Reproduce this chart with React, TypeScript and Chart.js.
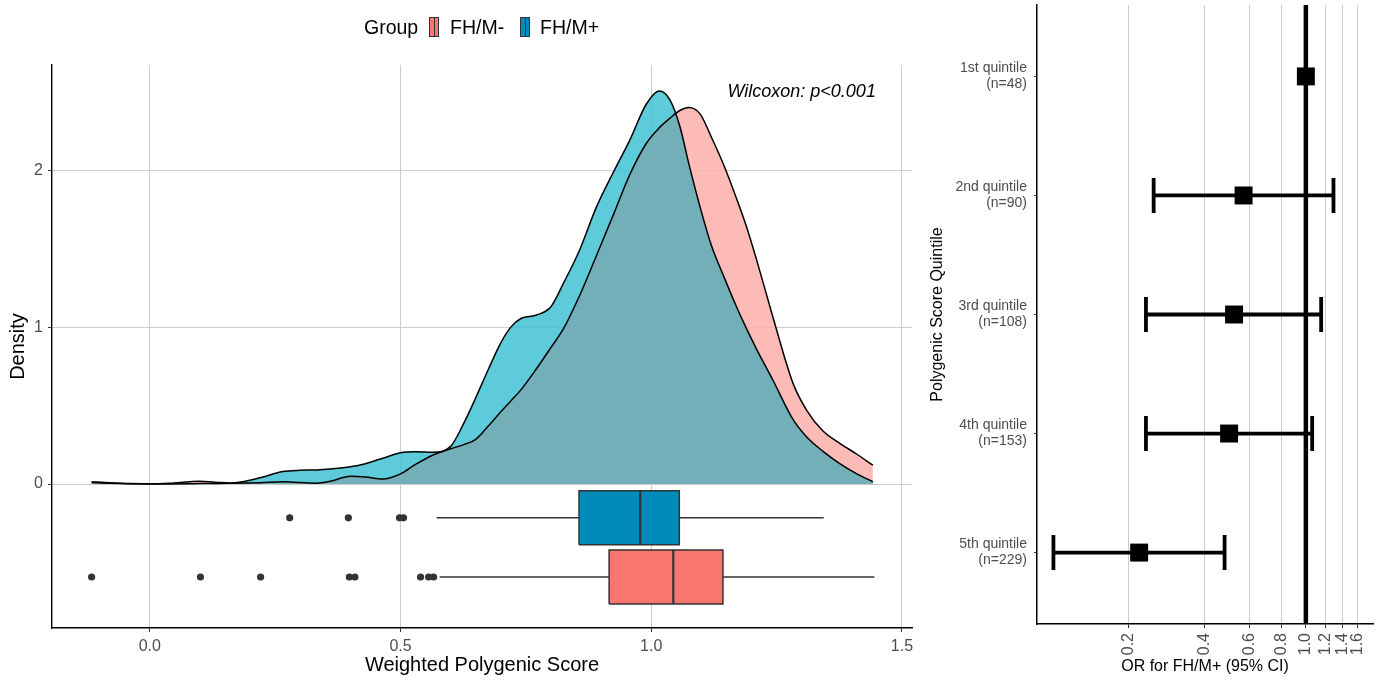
import React, { useEffect, useRef } from "react";
import { Chart, registerables } from "chart.js";

Chart.register(...registerables);

const FONT = "'Liberation Sans', Arial, Helvetica, sans-serif";

// ---------- Left panel: density + boxplots ----------
const scoreGrid = [
  -0.116, -0.08, -0.04, 0, 0.04, 0.08, 0.1, 0.13, 0.17, 0.22, 0.265, 0.3, 0.333, 0.36, 0.4, 0.43,
  0.465, 0.5, 0.53, 0.565, 0.6, 0.625, 0.65, 0.675, 0.7, 0.72, 0.74, 0.77, 0.8, 0.825, 0.857, 0.89,
  0.925, 0.957, 0.99, 1.016, 1.037, 1.057, 1.075, 1.097, 1.12, 1.145, 1.17, 1.19, 1.21, 1.243, 1.283,
  1.31, 1.342, 1.376, 1.41, 1.442,
];
// FH/M-
const densityNeg = [
  0.015, 0.008, 0.003, 0.002, 0.006, 0.015, 0.018, 0.012, 0.005, 0.008, 0.015, 0.01, 0.006, 0.018, 0.05, 0.045,
  0.032, 0.065, 0.125, 0.185, 0.225, 0.25, 0.285, 0.37, 0.46, 0.53, 0.6, 0.73, 0.87, 0.99, 1.2, 1.45,
  1.72, 1.97, 2.17, 2.27, 2.33, 2.38, 2.4, 2.36, 2.21, 2.03, 1.82, 1.64, 1.43, 1.06, 0.64,
  0.47, 0.34, 0.26, 0.19, 0.12,
];
// FH/M+
const densityPos = [
  0.01, 0.005, 0.002, 0.001, 0.001, 0.002, 0.003, 0.004, 0.008, 0.04, 0.08, 0.088, 0.09, 0.096, 0.11, 0.13,
  0.165, 0.2, 0.206, 0.203, 0.24, 0.38, 0.55, 0.73, 0.9, 1.0, 1.055, 1.076, 1.13, 1.28, 1.49, 1.76,
  1.99, 2.19, 2.42, 2.505, 2.45, 2.28, 2.04, 1.77, 1.52, 1.32, 1.13, 0.99, 0.86, 0.66, 0.41,
  0.3, 0.21, 0.13, 0.065, 0.015,
];
const scoreTicks = [0, 0.5, 1.0, 1.5];
const scoreTickLabels = ["0.0", "0.5", "1.0", "1.5"];
const densityTicks = [0, 1, 2];
const densityTickLabels = ["0", "1", "2"];

const groups = ["FH/M-", "FH/M+"];
const boxQ1 = [0.916, 0.856];
const boxMedian = [1.044, 0.978];
const boxQ3 = [1.143, 1.056];
const whiskerLow = [0.578, 0.572];
const whiskerHigh = [1.445, 1.344];
const outliersNeg = [-0.116, 0.101, 0.221, 0.398, 0.409, 0.54, 0.556, 0.566];
const outliersPos = [0.279, 0.396, 0.498, 0.506];
const wilcoxonText = "Wilcoxon: p<0.001";

// ---------- Right panel: forest plot ----------
const quintiles = ["1st quintile", "2nd quintile", "3rd quintile", "4th quintile", "5th quintile"];
const quintileN = [48, 90, 108, 153, 229];
const orValues = [1.0, 0.568, 0.521, 0.498, 0.22];
const ciLow = [null, 0.251, 0.234, 0.234, 0.101];
const ciHigh = [null, 1.285, 1.149, 1.059, 0.478];
const orTicks = [0.2, 0.4, 0.6, 0.8, 1.0, 1.2, 1.4, 1.6];
const orTickLabels = ["0.2", "0.4", "0.6", "0.8", "1.0", "1.2", "1.4", "1.6"];

// ---------- styles / layout ----------
const BOX_ROW = [-0.592, -0.215]; // vertical centre of each group's boxplot (density units)
const BOX_HALF = 0.172;
const CAP_HALF = 0.147;
const WILCOXON_AT = { x: 1.448, y: 2.5 };
const NEG_FILL = "rgba(251,175,169,0.85)";
const POS_FILL = "rgba(66,194,213,0.85)";
const OVERLAP_FILL = "rgba(120,173,181,0.85)";
const BOX_COLORS = ["#F8766D", "#008BBA"];
const GRID = "#CCCCCC";
const TICK_TEXT = "#4D4D4D";

const wilcoxonPlugin = {
  id: "wilcoxon",
  afterDatasetsDraw(chart: any) {
    const { ctx, scales } = chart;
    ctx.save();
    ctx.font = `italic 18px ${FONT}`;
    ctx.fillStyle = "#000";
    ctx.textAlign = "right";
    ctx.textBaseline = "middle";
    ctx.fillText(wilcoxonText, scales.x.getPixelForValue(WILCOXON_AT.x), scales.y.getPixelForValue(WILCOXON_AT.y));
    ctx.restore();
  },
};

const fixHeight = (h: number) => (s: any) => {
  s.height = h;
  s.paddingLeft = 0;
  s.paddingRight = 0;
};
const fixWidth = (w: number) => (s: any) => {
  s.width = w;
  s.paddingTop = 0;
  s.paddingBottom = 0;
};

function buildLeftDatasets() {
  const ds: any[] = [];
  const curve = (ys: number[]) => scoreGrid.map((x, i) => ({ x, y: ys[i] }));
  const overlap = scoreGrid.map((x, i) => ({ x, y: Math.min(densityNeg[i], densityPos[i]) }));
  const area = (data: any, color: string, order: number) => ({
    data, fill: "origin", backgroundColor: color, borderWidth: 0, pointRadius: 0,
    cubicInterpolationMode: "monotone", order,
  });
  ds.push(area(curve(densityNeg), NEG_FILL, 40));
  ds.push(area(curve(densityPos), POS_FILL, 39));
  ds.push(area(overlap, OVERLAP_FILL, 38));
  const outline = (data: any, order: number) => ({
    data, fill: false, borderColor: "#000", borderWidth: 1.5, pointRadius: 0,
    cubicInterpolationMode: "monotone", order,
  });
  ds.push(outline(curve(densityNeg), 37));
  ds.push(outline(curve(densityPos), 36));

  const outliers = [outliersNeg, outliersPos];
  groups.forEach((g, k) => {
    const c = BOX_ROW[k];
    const lo = c - BOX_HALF;
    const hi = c + BOX_HALF;
    const bottomIndex = ds.length;
    ds.push({ data: [{ x: boxQ1[k], y: lo }, { x: boxQ3[k], y: lo }], borderWidth: 0, pointRadius: 0, fill: false, order: 30 });
    ds.push({ data: [{ x: boxQ1[k], y: hi }, { x: boxQ3[k], y: hi }], borderWidth: 0, pointRadius: 0,
      fill: bottomIndex, backgroundColor: BOX_COLORS[k], order: 29 });
    const seg = (data: any, w: number, order: number) => ({
      data, borderColor: "#333333", borderWidth: w, pointRadius: 0, fill: false, order,
      borderCapStyle: "butt", borderJoinStyle: "miter",
    });
    ds.push(seg([{ x: whiskerLow[k], y: c }, { x: boxQ1[k], y: c }], 1.6, 28));
    ds.push(seg([{ x: boxQ3[k], y: c }, { x: whiskerHigh[k], y: c }], 1.6, 28));
    ds.push(seg([{ x: boxQ1[k], y: lo }, { x: boxQ1[k], y: hi }, { x: boxQ3[k], y: hi }, { x: boxQ3[k], y: lo }, { x: boxQ1[k], y: lo }], 1.5, 27));
    ds.push(seg([{ x: boxMedian[k], y: lo }, { x: boxMedian[k], y: hi }], 2.2, 26));
    ds.push({ data: outliers[k].map((x) => ({ x, y: c })), showLine: false, pointRadius: 3.6,
      pointBackgroundColor: "#333333", pointBorderWidth: 0, order: 25 });
  });
  return ds;
}

function buildRightDatasets() {
  const ds: any[] = [];
  const seg = (data: any, w: number, order: number) => ({
    data, borderColor: "#000", borderWidth: w, pointRadius: 0, fill: false, order, borderCapStyle: "butt",
  });
  ds.push(seg([{ x: 1, y: 0.4 }, { x: 1, y: 5.6 }], 4.5, 30));
  quintiles.forEach((q, i) => {
    const y = i + 1;
    const lo = ciLow[i];
    const hi = ciHigh[i];
    if (lo == null || hi == null) return;
    ds.push(seg([{ x: lo, y }, { x: hi, y }], 3.8, 20));
    ds.push(seg([{ x: lo, y: y - CAP_HALF }, { x: lo, y: y + CAP_HALF }], 3.8, 20));
    ds.push(seg([{ x: hi, y: y - CAP_HALF }, { x: hi, y: y + CAP_HALF }], 3.8, 20));
  });
  ds.push({
    data: orValues.map((v, i) => ({ x: v, y: i + 1 })), showLine: false, pointStyle: "rect",
    pointRadius: 12.7, pointBackgroundColor: "#000", pointBorderWidth: 0, order: 10,
  });
  return ds;
}

function LeftChart() {
  const ref = useRef<HTMLCanvasElement>(null);
  useEffect(() => {
    const chart = new Chart(ref.current as HTMLCanvasElement, {
      type: "line",
      data: { datasets: buildLeftDatasets() },
      options: {
        animation: false,
        responsive: false,
        maintainAspectRatio: false,
        layout: { autoPadding: false, padding: { left: 0, right: 18, top: 65, bottom: 0 } },
        plugins: { legend: { display: false }, tooltip: { enabled: false } },
        scales: {
          x: {
            type: "linear", min: -0.195, max: 1.52, bounds: "data",
            afterBuildTicks: (s: any) => { s.ticks = scoreTicks.map((value) => ({ value })); },
            afterFit: fixHeight(52),
            ticks: { callback: (_v: any, i: number) => scoreTickLabels[i], font: { family: FONT, size: 16 }, color: TICK_TEXT, padding: 5, maxRotation: 0, autoSkip: false },
            grid: { color: GRID, lineWidth: 1, tickLength: 4, tickColor: "#333", drawTicks: true },
            border: { color: "#000", width: 1.4 },
            title: { display: true, text: "Weighted Polygenic Score", color: "#000", font: { family: FONT, size: 20 }, padding: { top: 0, bottom: 3 } },
          },
          y: {
            type: "linear", min: -0.917, max: 2.67, bounds: "data",
            afterBuildTicks: (s: any) => { s.ticks = densityTicks.map((value) => ({ value })); },
            afterFit: fixWidth(52),
            ticks: { callback: (_v: any, i: number) => densityTickLabels[i], font: { family: FONT, size: 16 }, color: TICK_TEXT, padding: 5, autoSkip: false },
            grid: { color: GRID, lineWidth: 1, tickLength: 4, tickColor: "#333", drawTicks: true },
            border: { color: "#000", width: 1.4 },
            title: { display: true, text: "Density", color: "#000", font: { family: FONT, size: 20 }, padding: { top: 6, bottom: 0 } },
          },
        },
      } as any,
      plugins: [wilcoxonPlugin],
    });
    return () => chart.destroy();
  }, []);
  return <canvas ref={ref} width={930} height={680} style={{ position: "absolute", left: 0, top: 0 }} />;
}

function RightChart() {
  const ref = useRef<HTMLCanvasElement>(null);
  useEffect(() => {
    const chart = new Chart(ref.current as HTMLCanvasElement, {
      type: "line",
      data: { datasets: buildRightDatasets() },
      options: {
        animation: false,
        responsive: false,
        maintainAspectRatio: false,
        layout: { autoPadding: false, padding: { left: 0, right: 7, top: 5, bottom: 0 } },
        plugins: { legend: { display: false }, tooltip: { enabled: false } },
        scales: {
          x: {
            type: "logarithmic", min: 0.087, max: 1.84, bounds: "data",
            afterBuildTicks: (s: any) => { s.ticks = orTicks.map((value) => ({ value })); },
            afterFit: fixHeight(56),
            ticks: { callback: (_v: any, i: number) => orTickLabels[i], font: { family: FONT, size: 16 }, color: TICK_TEXT, padding: 5, minRotation: 90, maxRotation: 90, autoSkip: false },
            grid: { color: GRID, lineWidth: 1, tickLength: 4, tickColor: "#333", drawTicks: true },
            border: { color: "#000", width: 1.5 },
            title: { display: true, text: "OR for FH/M+ (95% CI)", color: "#000", font: { family: FONT, size: 16 }, padding: { top: 0, bottom: 3.4 } },
          },
          y: {
            type: "linear", min: 0.4, max: 5.6, reverse: true, bounds: "data",
            afterBuildTicks: (s: any) => { s.ticks = quintiles.map((_q, i) => ({ value: i + 1 })); },
            afterFit: fixWidth(117),
            ticks: {
              callback: (_v: any, i: number) => [quintiles[i], `(n=${quintileN[i]})`],
              font: { family: FONT, size: 14, lineHeight: 1.15 }, color: TICK_TEXT, padding: 7, autoSkip: false,
            },
            grid: { drawOnChartArea: false, tickLength: 3, tickColor: "#333", drawTicks: true },
            border: { color: "#000", width: 1.5 },
            title: { display: true, text: "Polygenic Score Quintile", color: "#000", font: { family: FONT, size: 16 }, padding: { top: 8.4, bottom: 0 } },
          },
        },
      } as any,
    });
    return () => chart.destroy();
  }, []);
  return <canvas ref={ref} width={460} height={680} style={{ position: "absolute", left: 920, top: 0 }} />;
}

function LegendKey({ color, left }: { color: string; left: number }) {
  return (
    <span style={{ position: "absolute", left, top: 17, width: 10, height: 20, boxSizing: "border-box", border: "1px solid #333", background: color }}>
      <span style={{ position: "absolute", left: 3.5, top: 0, width: 1, height: "100%", background: "#333" }} />
    </span>
  );
}

export default function App() {
  const text = (t: string, left: number) => (
    <span style={{ position: "absolute", left, top: 15, lineHeight: "24px", fontSize: 19.5, fontFamily: FONT, color: "#000", whiteSpace: "nowrap" }}>{t}</span>
  );
  return (
    <div style={{ position: "fixed", left: 0, top: 0, width: 1380, height: 680, background: "#fff", overflow: "hidden" }}>
      <LeftChart />
      <RightChart />
      {text("Group", 364)}
      <LegendKey color={BOX_COLORS[0]} left={429} />
      {text(groups[0], 450)}
      <LegendKey color={BOX_COLORS[1]} left={520} />
      {text(groups[1], 540)}
    </div>
  );
}
